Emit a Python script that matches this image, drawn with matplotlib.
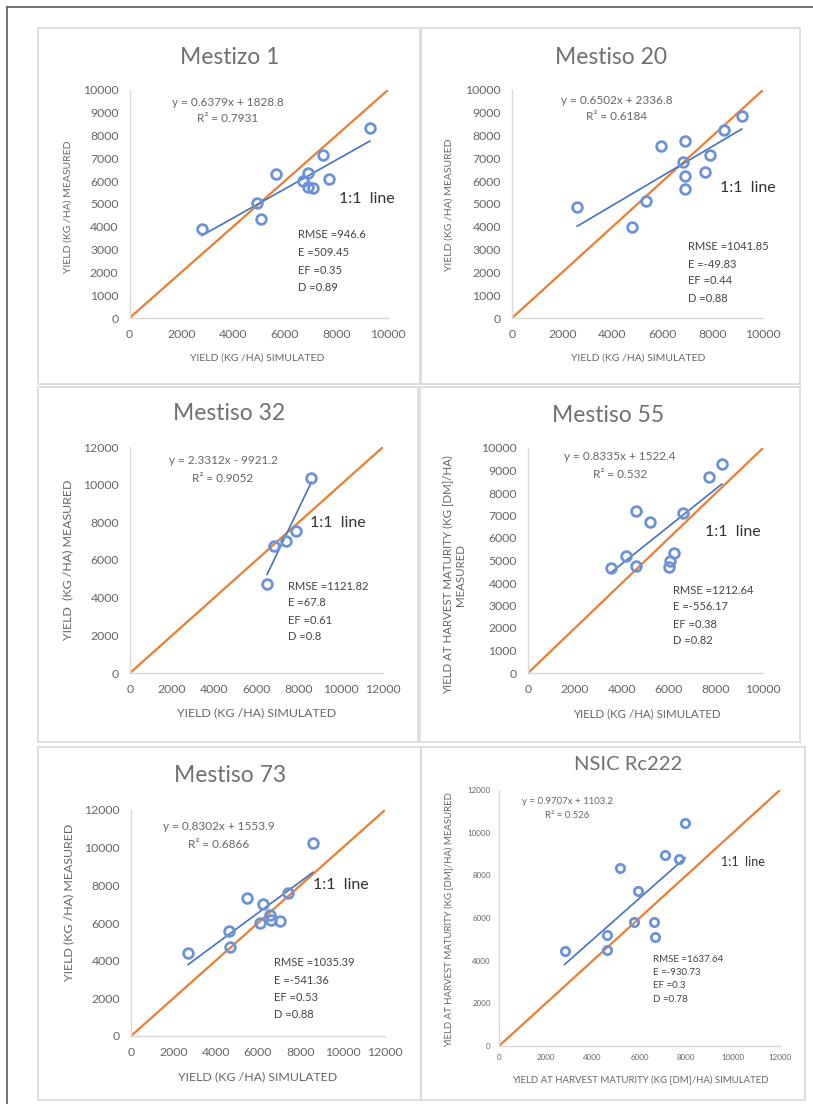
import matplotlib.pyplot as plt
from matplotlib.patches import Rectangle
from matplotlib.lines import Line2D

plt.rcParams['font.family'] = ['Lato', 'DejaVu Sans']

W, H = 813, 1104

# ---- data: simulated (x) vs measured (y) yield, kg/ha ----
m1_sim = [2800, 4950, 5100, 5650, 6700, 6900, 6900, 7100, 7500, 7700, 9300]
m1_obs = [3900, 5050, 4350, 6300, 6000, 6350, 5750, 5700, 7150, 6100, 8350]

m20_sim = [2600, 4800, 5350, 5950, 6900, 6800, 6900, 6900, 7700, 7900, 8450, 9150]
m20_obs = [4850, 4000, 5150, 7550, 7750, 6850, 6250, 5650, 6400, 7150, 8250, 8850]

m32_sim = [6500, 6850, 7400, 7850, 8600]
m32_obs = [4750, 6750, 7000, 7550, 10350]

m55_sim = [3550, 4150, 4600, 4600, 5200, 6200, 6050, 6000, 6600, 7700, 8250]
m55_obs = [4650, 5200, 4750, 7200, 6700, 5350, 5000, 4700, 7100, 8700, 9300]

m73_sim = [2700, 4650, 4700, 5500, 6250, 6100, 6550, 6600, 7050, 7400, 8600]
m73_obs = [4400, 5550, 4700, 7350, 7000, 6000, 6400, 6150, 6100, 7600, 10250]

rc222_sim = [2800, 4600, 4600, 5150, 5750, 5950, 6600, 6650, 7100, 7700, 7950]
rc222_obs = [4450, 4500, 5200, 8350, 5800, 7250, 5800, 5100, 8950, 8750, 10450]

# trendline coefficients (slope, intercept, R2)
m1_fit = (0.6379, 1828.8, '0.7931')
m20_fit = (0.6502, 2336.8, '0.6184')
m32_fit = (2.3312, -9921.2, '0.9052')
m55_fit = (0.8335, 1522.4, '0.532')
m73_fit = (0.8302, 1553.9, '0.6866')
rc222_fit = (0.9707, 1103.2, '0.526')

m1_stats = ['RMSE =946.6', 'E =509.45', 'EF =0.35', 'D =0.89']
m20_stats = ['RMSE =1041.85', 'E =-49.83', 'EF =0.44', 'D =0.88']
m32_stats = ['RMSE =1121.82', 'E =67.8', 'EF =0.61', 'D =0.8']
m55_stats = ['RMSE =1212.64', 'E =-556.17', 'EF =0.38', 'D =0.82']
m73_stats = ['RMSE =1035.39', 'E =-541.36', 'EF =0.53', 'D =0.88']
rc222_stats = ['RMSE =1637.64', 'E =-930.73', 'EF =0.3', 'D =0.78']

GRAY = '#666666'
ORANGE = '#ED7D31'
BLUE = '#4472C4'
MARK = '#6C93D8'


def fx(x):
    return x / W


def fy(y):
    return 1 - y / H


fig = plt.figure(figsize=(W / 100, H / 100), dpi=100)

# page frame (top and left edge)
fig.add_artist(Line2D([fx(7), 1], [fy(7), fy(7)], color='#666666', lw=1.3))
fig.add_artist(Line2D([fx(7), fx(7)], [fy(7), 0], color='#666666', lw=1.3))

# chart boxes: left, top, right, bottom
boxes = [(38, 28, 420, 384), (421, 28, 800, 384),
         (38, 387, 418, 742), (420, 387, 800, 742),
         (38, 747, 421, 1100), (421, 747, 805, 1100)]
for l, t, r, b in boxes:
    fig.add_artist(Rectangle((fx(l), fy(b)), fx(r) - fx(l), fy(t) - fy(b),
                             fill=False, edgecolor='#D9D9D9', lw=1.2))

panels = [
    dict(title='Mestizo 1', sim=m1_sim, obs=m1_obs, fit=m1_fit, stats=m1_stats,
         ax=(129.5, 388, 318, 90), lim=10000, step=1000,
         title_xy=(230, 57), eq_xy=(228, 102), one_xy=(367, 199),
         st_xy=(298, 235, 17.5), lab_fs=7.5,
         ylab='YIELD (KG /HA) MEASURED', ylab_xy=(68, 207),
         xlab='YIELD (KG /HA) SIMULATED', xlab_xy=(257, 358)),
    dict(title='Mestiso 20', sim=m20_sim, obs=m20_obs, fit=m20_fit, stats=m20_stats,
         ax=(512, 763, 318, 90), lim=10000, step=1000,
         title_xy=(611, 57), eq_xy=(617, 100), one_xy=(748, 188),
         st_xy=(688, 247, 17), lab_fs=7.5,
         ylab='YIELD (KG /HA) MEASURED', ylab_xy=(449, 205),
         xlab='YIELD (KG /HA) SIMULATED', xlab_xy=(638, 358)),
    dict(title='Mestiso 32', sim=m32_sim, obs=m32_obs, fit=m32_fit, stats=m32_stats,
         ax=(130, 383, 673, 447), lim=12000, step=2000,
         title_xy=(229, 413), eq_xy=(223, 461), one_xy=(338, 523),
         st_xy=(288, 586, 17), lab_fs=8.9,
         ylab='YIELD  (KG /HA) MEASURED', ylab_xy=(68, 560),
         xlab='YIELD (KG /HA) SIMULATED', xlab_xy=(257, 713)),
    dict(title='Mestiso 55', sim=m55_sim, obs=m55_obs, fit=m55_fit, stats=m55_stats,
         ax=(528, 763, 673, 448), lim=10000, step=1000,
         title_xy=(608, 415), eq_xy=(620, 457), one_xy=(733, 532),
         st_xy=(673, 590, 17), lab_fs=8.3,
         ylab='YIELD AT HARVEST MATURITY (KG [DM]/HA)\nMEASURED', ylab_xy=(454, 575),
         xlab='YIELD (KG /HA) SIMULATED', xlab_xy=(647, 714)),
    dict(title='Mestiso 73', sim=m73_sim, obs=m73_obs, fit=m73_fit, stats=m73_stats,
         ax=(131, 385, 1036, 810), lim=12000, step=2000,
         title_xy=(230, 776), eq_xy=(219, 827), one_xy=(341, 885),
         st_xy=(274, 963, 17.3), lab_fs=8.9,
         ylab='YIELD (KG /HA) MEASURED', ylab_xy=(69, 902),
         xlab='YIELD (KG /HA) SIMULATED', xlab_xy=(258, 1077)),
    dict(title='NSIC Rc222', sim=rc222_sim, obs=rc222_obs, fit=rc222_fit, stats=rc222_stats,
         ax=(499, 780, 1046, 790), lim=12000, step=2000,
         title_xy=(628, 764), eq_xy=(567, 802), one_xy=(743, 862),
         st_xy=(653, 959, 13.5), lab_fs=6.9, small=True,
         ylab='YIELD AT HARVEST MATURITY (KG [DM]/HA) MEASURED', ylab_xy=(449, 920),
         xlab='YIELD AT HARVEST MATURITY (KG [DM]/HA) SIMULATED', xlab_xy=(640, 1080)),
]

for p in panels:
    x0, x1, y0, y1 = p['ax']
    ax = fig.add_axes([fx(x0), fy(y0), fx(x1) - fx(x0), fy(y1) - fy(y0)])
    lim = p['lim']
    small = p.get('small', False)

    # 1:1 line
    ax.plot([0, lim], [0, lim], color=ORANGE, lw=1.6, zorder=2)
    # linear trendline over the simulated range
    slope, icpt, r2 = p['fit']
    xs = [min(p['sim']), max(p['sim'])]
    ax.plot(xs, [slope * v + icpt for v in xs], color=BLUE, lw=1.2, zorder=3)
    ax.plot(p['sim'], p['obs'], 'o', ms=6 if small else 7, mfc='none',
            mec=MARK, mew=2.0, zorder=4)

    ax.set_xlim(0, lim)
    ax.set_ylim(0, lim)
    ax.set_xticks(range(0, lim + 1, 2000))
    ax.set_yticks(range(0, lim + 1, p['step']))
    ax.tick_params(length=0, labelsize=5.8 if small else 8.8, colors=GRAY,
                   pad=6 if small else 8)
    for s in ['top', 'right']:
        ax.spines[s].set_visible(False)
    for s in ['left', 'bottom']:
        ax.spines[s].set_color('#D9D9D9')
        ax.spines[s].set_linewidth(1.0)
    ax.patch.set_alpha(0)

    tx, ty = p['title_xy']
    fig.text(fx(tx), fy(ty), p['title'], ha='center', va='center',
             fontsize=14.5 if small else 16.5, color='#707070')
    ex, ey = p['eq_xy']
    sign = '+' if icpt >= 0 else '-'
    eq_fs = 6.9 if small else 8.5
    fig.text(fx(ex), fy(ey), f'y = {slope}x {sign} {abs(icpt)}', ha='center',
             va='center', fontsize=eq_fs, color=GRAY)
    fig.text(fx(ex), fy(ey + (13 if small else 17)), f'R² = {r2}', ha='center',
             va='center', fontsize=eq_fs, color=GRAY)
    ox, oy = p['one_xy']
    fig.text(fx(ox), fy(oy), '1:1  line', ha='center', va='center',
             fontsize=9 if small else 11.5, color='#333333')
    sx, sy, sd = p['st_xy']
    for i, s in enumerate(p['stats']):
        fig.text(fx(sx), fy(sy + i * sd), s, ha='left', va='center',
                 fontsize=7 if small else 8, color='#444444')
    lx, ly = p['ylab_xy']
    fig.text(fx(lx), fy(ly), p['ylab'], ha='center', va='center', rotation=90,
             fontsize=p['lab_fs'], color=GRAY, linespacing=1.3)
    lx, ly = p['xlab_xy']
    fig.text(fx(lx), fy(ly), p['xlab'], ha='center', va='center',
             fontsize=p['lab_fs'], color=GRAY)

fig.savefig('out.png', dpi=100, facecolor='white')
